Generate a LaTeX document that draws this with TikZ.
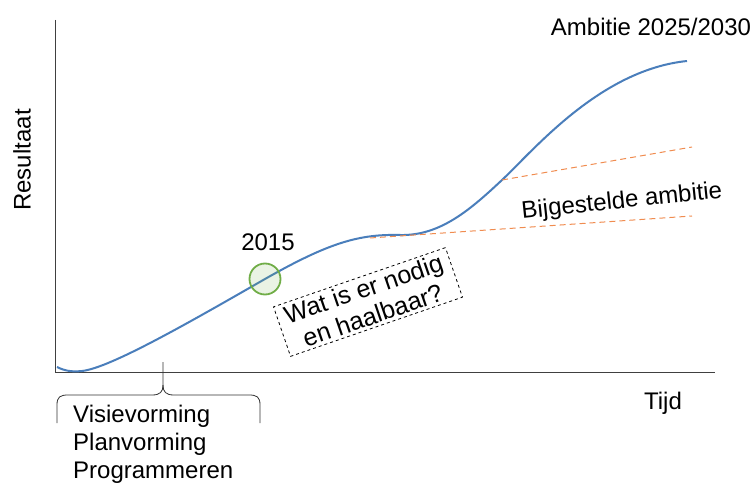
\documentclass[tikz,border=0pt]{standalone}
\usepackage{fontspec}
\setmainfont{Liberation Sans}
\usetikzlibrary{positioning}
\definecolor{curveblue}{RGB}{74,126,187}
\definecolor{ambitorange}{RGB}{240,140,80}
\definecolor{markgreen}{RGB}{112,173,71}

\begin{document}
\begin{tikzpicture}[x=1pt,y=-1pt,
  label/.style={font=\fontsize{24}{28}\selectfont,inner sep=0pt},
  axisline/.style={draw=black!75,line width=0.9pt},
  ambitline/.style={draw=ambitorange,dashed,dash pattern=on 6pt off 4pt,line width=1pt}]
\useasboundingbox (0,0) rectangle (755,486);
% axes
\coordinate (o) at (55,372);
\coordinate (ytop) at (55,20);
\coordinate (xend) at (715,372);
\draw[axisline] (ytop) -- (o) -- (xend);
\node[label,rotate=90] (res) at (22,160) {Resultaat};
\node[label] (tijd) at (663,403) {Tijd};
% ontwikkeling
\coordinate (start) at (57,367);
\coordinate (dal) at (82,371);
\coordinate (nu0) at (265,279);
\coordinate (vlak) at (400,235);
\coordinate (hi0) at (502,180);
\coordinate (eind) at (687,61);
\draw[curveblue,line width=2pt] (start) .. controls (65,371) and (72,372) .. (dal)
  .. controls (110,368) and (190,322) .. (nu0)
  .. controls (330,242) and (360,234) .. (vlak)
  .. controls (440,236) and (470,210) .. (hi0)
  .. controls (534,150) and (600,70) .. (eind);
% bijgestelde ambitie
\coordinate (hi1) at (692,147);
\coordinate (lo0) at (370,238);
\coordinate (lo1) at (692,216);
\draw[ambitline] (hi0) -- (hi1);
\draw[ambitline] (lo0) -- (lo1);
\node[label,rotate=6] (bij) at (622,202) {Bijgestelde ambitie};
\node[label] (amb) at (651,27) {Ambitie 2025/2030};
% 2015
\node[circle,draw=markgreen,line width=1.8pt,fill=markgreen,fill opacity=0.15,
  draw opacity=1,minimum size=31pt,inner sep=0pt] (nu) at (nu0) {};
\node[label] (jaar) at (268,242) {2015};
\node[label,draw=black,dashed,line width=0.8pt,rotate=19,align=center,
  font=\fontsize{25}{28}\selectfont,inner xsep=8pt,inner ysep=3pt] (vraag) at (368,302)
  {Wat is er nodig\\en haalbaar?};
% accolade
\coordinate (bl) at (57,423);
\coordinate (br) at (260,423);
\coordinate (tip) at (163,362);
\draw[black!80,line width=0.8pt] (bl) -- (57,405) .. controls (57,397) and (60,395) .. (68,395)
  -- (152,395) .. controls (160,395) and (163,392) .. (163,385) -- (tip);
\draw[black!80,line width=0.8pt] (163,385) .. controls (163,392) and (166,395) .. (174,395)
  -- (249,395) .. controls (257,395) and (260,397) .. (260,405) -- (br);
\node[label,anchor=north west,align=left] (fasen) at (73,405)
  {Visievorming\\Planvorming\\Programmeren};
\end{tikzpicture}
\end{document}
